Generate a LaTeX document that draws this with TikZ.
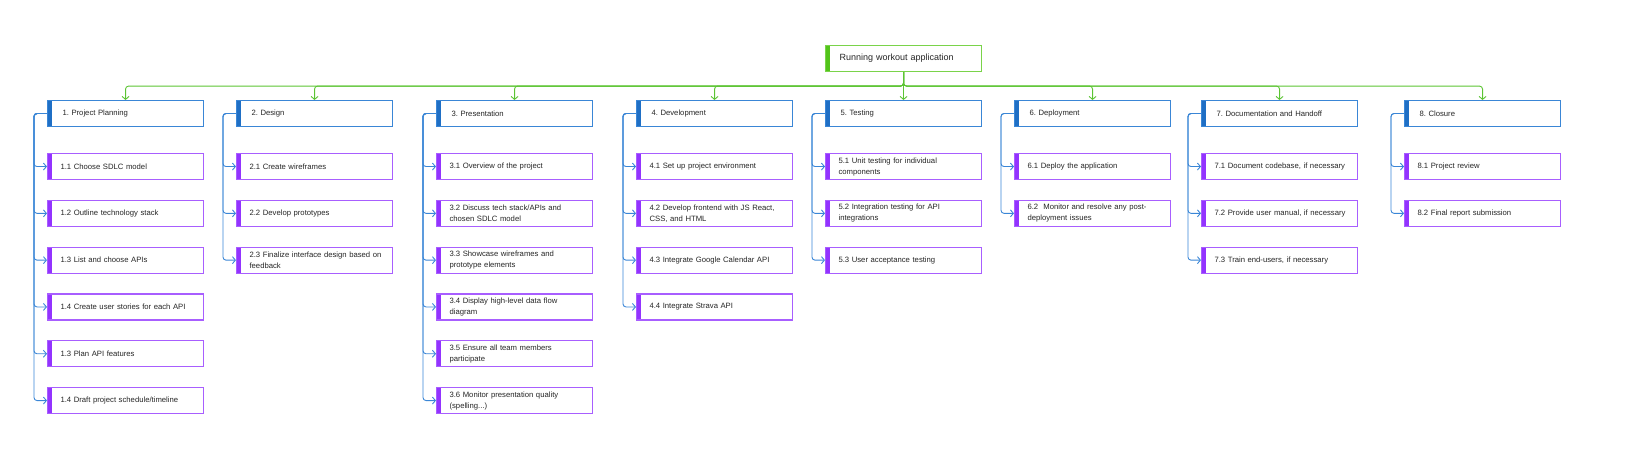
\documentclass[tikz,border=0pt]{standalone}
\usepackage{fontspec}
\setmainfont{Liberation Sans}
\usetikzlibrary{arrows.meta}
\definecolor{phaseblue}{HTML}{3A86D6}
\definecolor{phasebar}{HTML}{1F6FC5}
\definecolor{taskline}{HTML}{A85EFF}
\definecolor{taskbar}{HTML}{9333FF}
\definecolor{rootline}{HTML}{7AD34A}
\definecolor{rootbar}{HTML}{52C41A}
\definecolor{feedgreen}{HTML}{5CC433}
\definecolor{txtgray}{HTML}{262626}

\begin{document}
\begin{tikzpicture}[x=1pt,y=-1pt,
    box/.style={draw, line width=1.1pt, fill=white, anchor=north west,
        minimum height=26pt, inner ysep=0pt, align=left, text=txtgray,
        text width=136pt, inner xsep=10pt,
        font=\fontsize{7.7}{11}\selectfont},
    task/.style={box, draw=taskline,
        execute at begin node={\leftskip=3pt\hyphenpenalty=10000},
        path picture={\fill[taskbar] (path picture bounding box.south west)
            rectangle ([xshift=4pt]path picture bounding box.north west);}},
    phase/.style={box, draw=phaseblue,
        execute at begin node={\leftskip=5pt\hyphenpenalty=10000},
        path picture={\fill[phasebar] (path picture bounding box.south west)
            rectangle ([xshift=4pt]path picture bounding box.north west);}},
    goal/.style={box, draw=rootline, font=\fontsize{9}{11}\selectfont,
        execute at begin node={\leftskip=4pt\hyphenpenalty=10000},
        path picture={\fill[rootbar] (path picture bounding box.south west)
            rectangle ([xshift=4pt]path picture bounding box.north west);}},
    link/.style={draw=phaseblue, line width=0.9pt, rounded corners=3pt,
        -{Straight Barb[length=3pt,width=7pt]}},
    feed/.style={draw=feedgreen, line width=0.9pt, rounded corners=3pt,
        -{Straight Barb[length=3pt,width=7pt]}}]
    \useasboundingbox (0,0) rectangle (1652,473);

    % root
    \node[goal] (root) at (825,45) {Running workout application};

    % phases
    \node[phase] (p1) at (47,100) {1.\ Project Planning};
    \node[phase] (p2) at (236,100) {2.\ Design};
    \node[phase] (p3) at (436,100) {3.\ Presentation};
    \node[phase] (p4) at (636,100) {4.\ Development};
    \node[phase] (p5) at (825,100) {5.\ Testing};
    \node[phase] (p6) at (1014,100) {6.\ Deployment};
    \node[phase] (p7) at (1201,100) {7.\ Documentation and Handoff};
    \node[phase] (p8) at (1404,100) {8.\ Closure};

    % 1
    \node[task] (t11) at (47,153) {1.1 Choose SDLC model};
    \node[task] (t12) at (47,199.8) {1.2 Outline technology stack};
    \node[task] (t13) at (47,246.6) {1.3 List and choose APIs};
    \node[task] (t14) at (47,293.4) {1.4 Create user stories for each API};
    \node[task] (t15) at (47,340.2) {1.3 Plan API features};
    \node[task] (t16) at (47,387) {1.4 Draft project schedule/timeline};
    % 2
    \node[task] (t21) at (236,153) {2.1 Create wireframes};
    \node[task] (t22) at (236,199.8) {2.2 Develop prototypes};
    \node[task] (t23) at (236,246.6) {2.3 Finalize interface design based on\\feedback};
    % 3
    \node[task] (t31) at (436,153) {3.1 Overview of the project};
    \node[task] (t32) at (436,199.8) {3.2 Discuss tech stack/APIs and\\chosen SDLC model};
    \node[task] (t33) at (436,246.6) {3.3 Showcase wireframes and\\prototype elements};
    \node[task] (t34) at (436,293.4) {3.4 Display high-level data flow\\diagram};
    \node[task] (t35) at (436,340.2) {3.5 Ensure all team members\\participate};
    \node[task] (t36) at (436,387) {3.6 Monitor presentation quality\\(spelling...)};
    % 4
    \node[task] (t41) at (636,153) {4.1 Set up project environment};
    \node[task] (t42) at (636,199.8) {4.2 Develop frontend with JS React,\\CSS, and HTML};
    \node[task] (t43) at (636,246.6) {4.3 Integrate Google Calendar API};
    \node[task] (t44) at (636,293.4) {4.4 Integrate Strava API};
    % 5
    \node[task] (t51) at (825,153) {5.1 Unit testing for individual\\components};
    \node[task] (t52) at (825,199.8) {5.2 Integration testing for API\\integrations};
    \node[task] (t53) at (825,246.6) {5.3 User acceptance testing};
    % 6
    \node[task] (t61) at (1014,153) {6.1 Deploy the application};
    \node[task] (t62) at (1014,199.8) {6.2\ \ Monitor and resolve any post-\\deployment issues};
    % 7
    \node[task] (t71) at (1201,153) {7.1 Document codebase, if necessary};
    \node[task] (t72) at (1201,199.8) {7.2 Provide user manual, if necessary};
    \node[task] (t73) at (1201,246.6) {7.3 Train end-users, if necessary};
    % 8
    \node[task] (t81) at (1404,153) {8.1 Project review};
    \node[task] (t82) at (1404,199.8) {8.2 Final report submission};

    % connectors
    \foreach \c in {1,...,8}
        \draw[feed] (root.south) -- ++(0,14) -| (p\c.north);
    \foreach \c/\n in {1/6,2/3,3/6,4/4,5/3,6/2,7/3,8/2}
        \foreach \i in {1,...,\n}
            \draw[link] (p\c.west) -- ++(-13,0) |- (t\c\i.west);
\end{tikzpicture}
\end{document}
